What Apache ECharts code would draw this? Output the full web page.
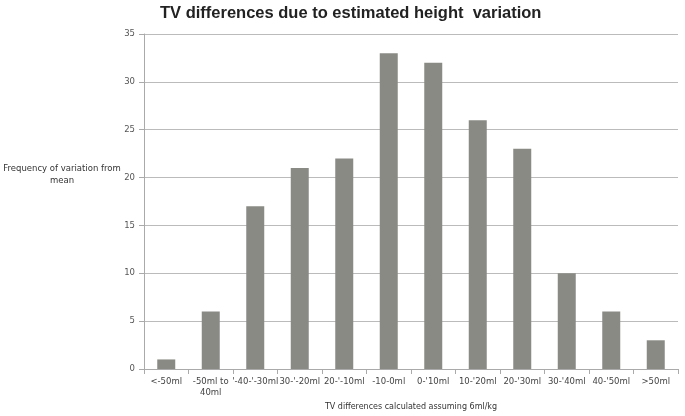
<!DOCTYPE html>
<html>
<head>
<meta charset="utf-8">
<script src="https://cdn.jsdelivr.net/npm/echarts@6/dist/echarts.min.js"></script>
<style>
  html, body { margin: 0; padding: 0; background: #fff; }
  #chart { width: 685px; height: 416px; }
</style>
</head>
<body>
<div id="chart"></div>
<script>
// bins of the tidal volume difference, as labelled in the source
const categories = ['<-50ml', '-50ml to\n40ml', "'-40-'-30ml", "30-'-20ml", "20-'-10ml", '-10-0ml',
  "0-'10ml", "10-'20ml", "20-'30ml", "30-'40ml", "40-'50ml", '>50ml']
const frequencies = [1, 6, 17, 21, 22, 33, 32, 26, 23, 10, 6, 3]
const yTicks = { min: 0, max: 35, interval: 5 }

const chart = echarts.init(document.getElementById('chart'))

chart.setOption({
  backgroundColor: '#fff',
  animation: false,
  textStyle: { fontFamily: 'DejaVu Sans' },
  title: {
    text: 'TV differences due to estimated height  variation',
    left: 155,
    top: 0,
    textStyle: {
      color: '#222',
      fontSize: 16.5,
      fontWeight: 'bold',
      fontFamily: 'Liberation Sans'
    }
  },
  grid: {
    left: 144,
    right: 7,
    top: 34,
    bottom: 47
  },
  xAxis: {
    type: 'category',
    data: categories,
    name: 'TV differences calculated assuming 6ml/kg',
    nameLocation: 'middle',
    nameGap: 34,
    nameTextStyle: { color: '#333', fontSize: 8 },
    axisLine: { lineStyle: { color: '#aaa' } },
    axisTick: { show: true, alignWithLabel: false, lineStyle: { color: '#aaa' } },
    axisLabel: {
      interval: 0,
      color: '#444',
      fontSize: 8.5,
      margin: 7,
      lineHeight: 11
    }
  },
  yAxis: {
    type: 'value',
    min: yTicks.min,
    max: yTicks.max,
    interval: yTicks.interval,
    axisLine: { show: true, lineStyle: { color: '#aaa' } },
    axisTick: { show: true, length: 5, lineStyle: { color: '#aaa' } },
    axisLabel: { color: '#555', fontSize: 8.5, margin: 9 },
    splitLine: { lineStyle: { color: '#bbb', width: 1 } }
  },
  graphic: [
    {
      type: 'text',
      x: 62,
      y: 163,
      style: {
        text: 'Frequency of variation from\nmean',
        align: 'center',
        fill: '#333',
        fontSize: 8.5,
        lineHeight: 12,
        fontFamily: 'DejaVu Sans'
      }
    }
  ],
  series: [
    {
      type: 'bar',
      data: frequencies,
      barWidth: 18,
      itemStyle: { color: '#8a8a85' }
    }
  ]
})
</script>
</body>
</html>
